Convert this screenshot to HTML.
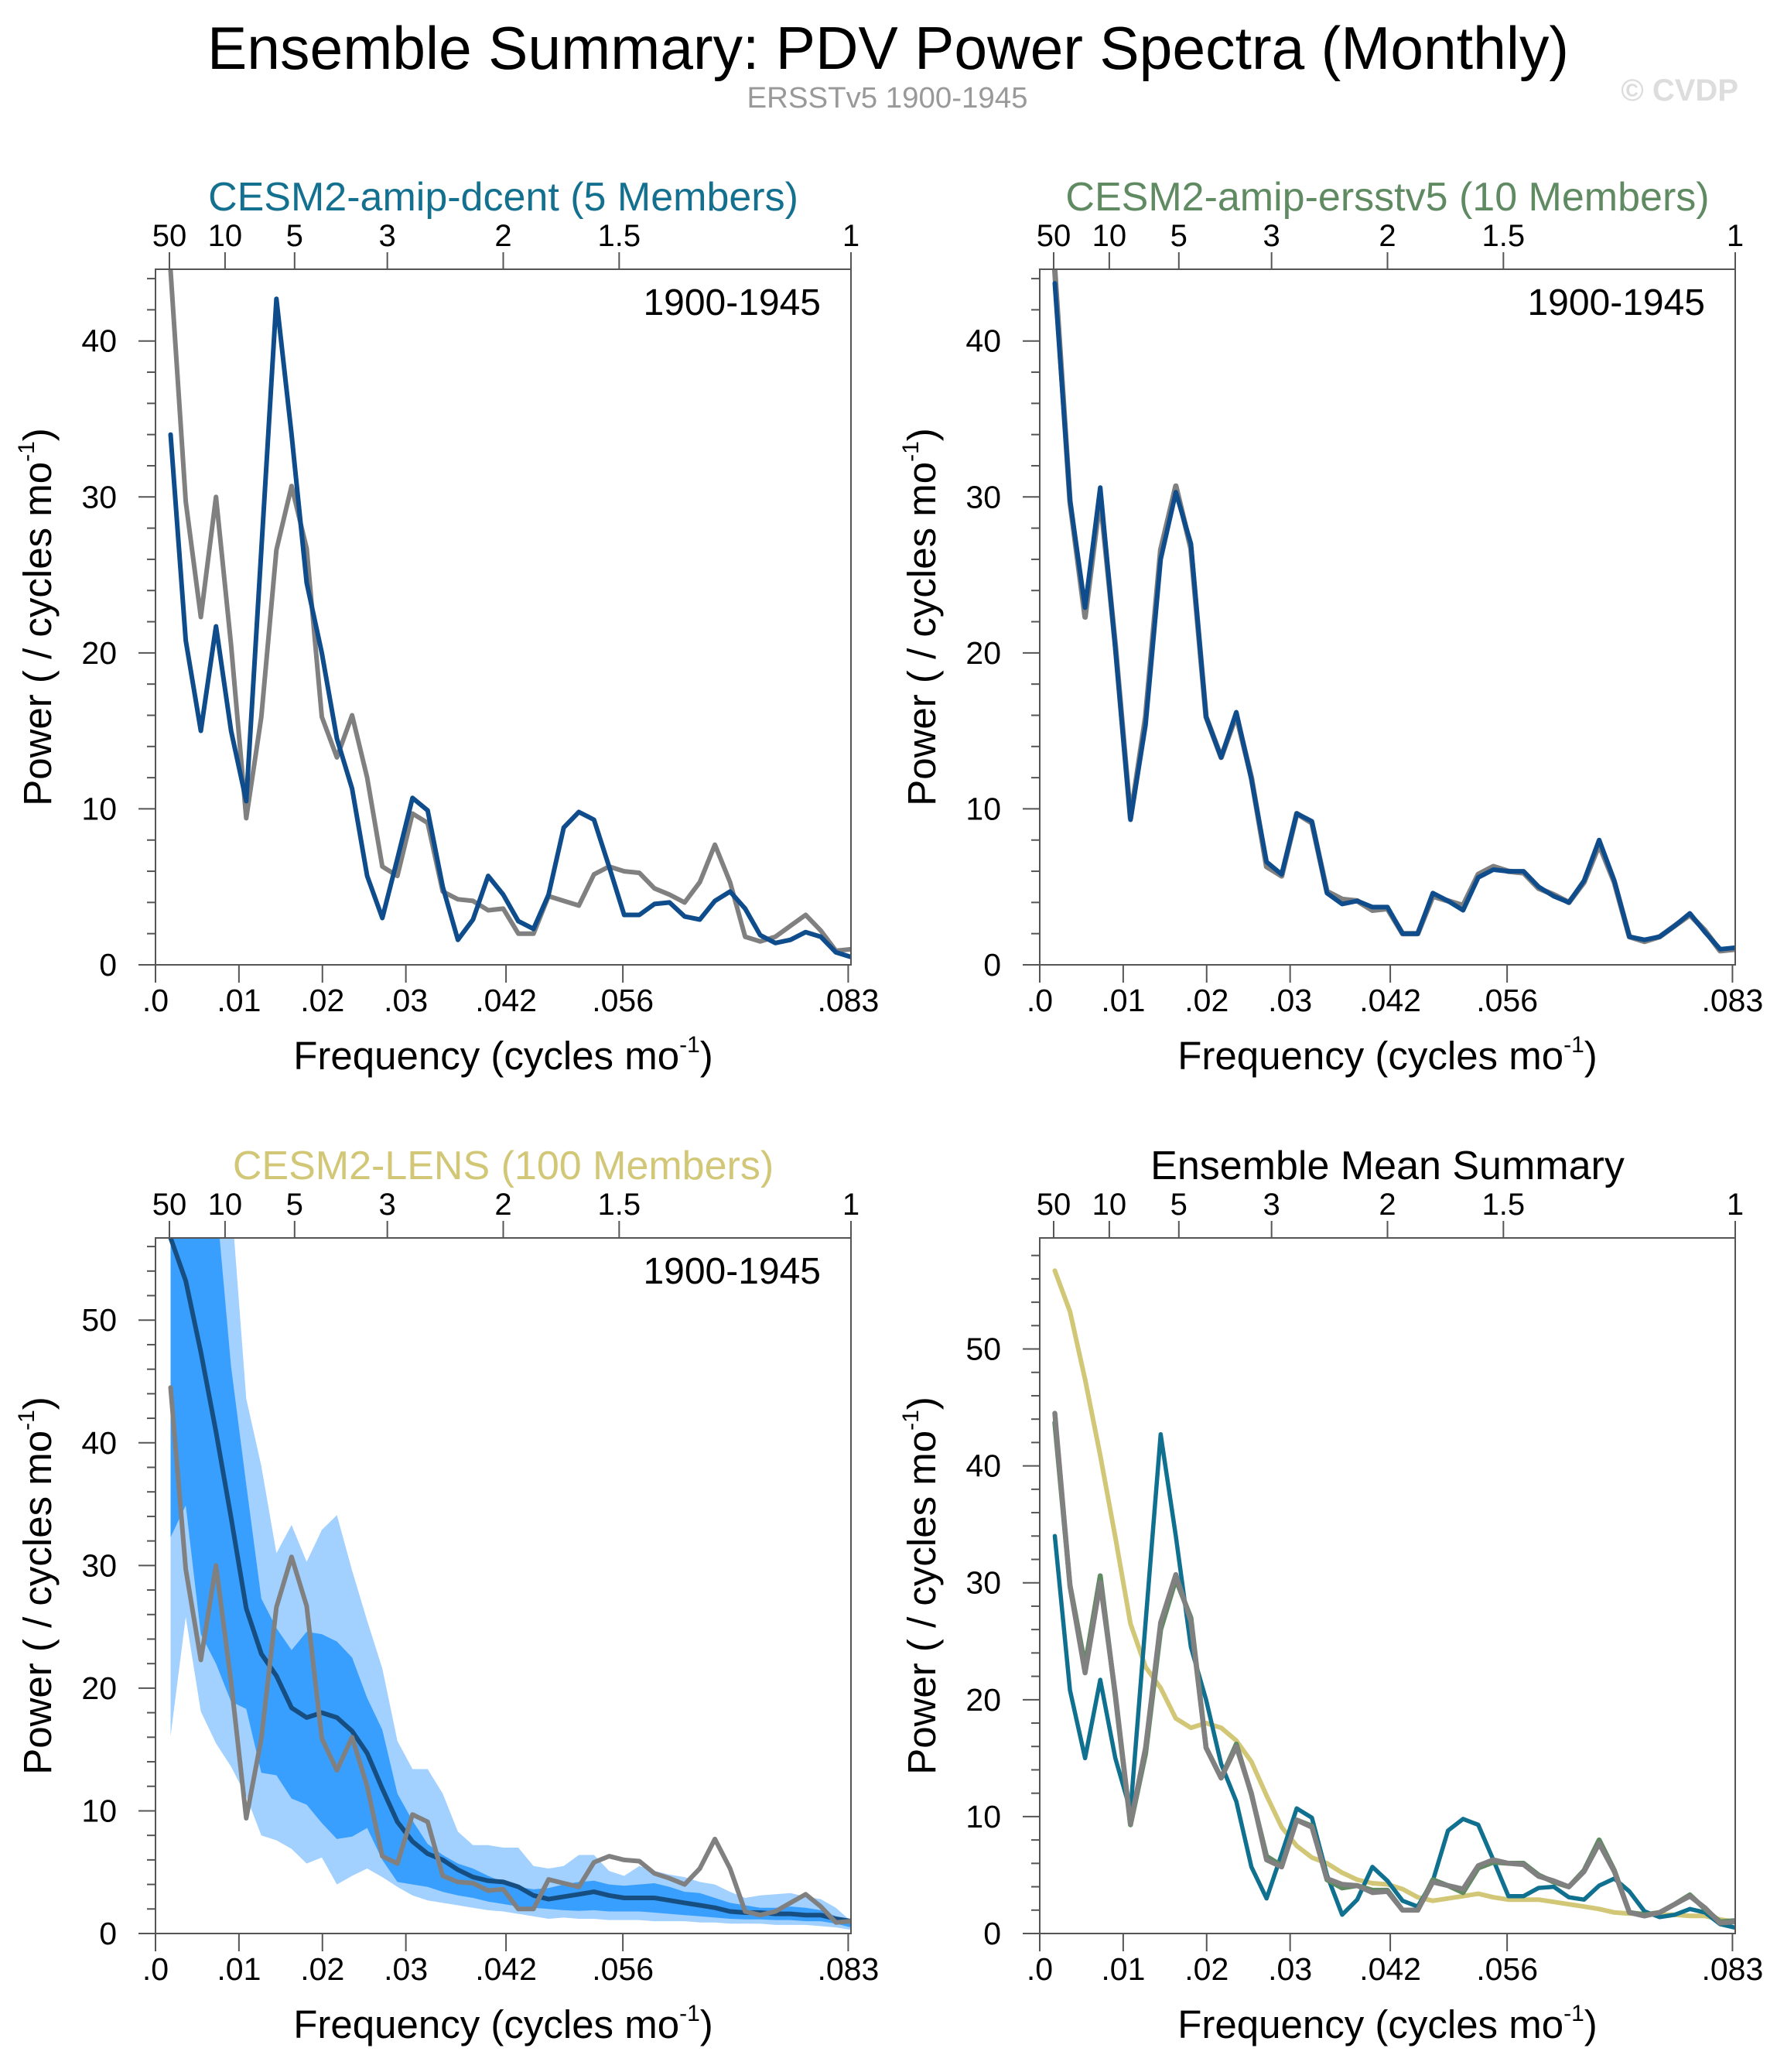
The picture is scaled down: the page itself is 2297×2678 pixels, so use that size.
<!DOCTYPE html>
<html><head><meta charset="utf-8"><style>
html,body{margin:0;padding:0;background:#fff}
svg{display:block;font-family:"Liberation Sans",sans-serif}
</style></head><body>
<svg id="chart" xmlns="http://www.w3.org/2000/svg" width="2297" height="2678" viewBox="0 0 2297 2678">
<rect width="2297" height="2678" fill="#fff"/>
<text x="1148" y="89" font-size="78" text-anchor="middle" textLength="1760" lengthAdjust="spacingAndGlyphs">Ensemble Summary: PDV Power Spectra (Monthly)</text>
<text x="1147" y="139" font-size="38" fill="#999" text-anchor="middle" textLength="363" lengthAdjust="spacingAndGlyphs">ERSSTv5 1900-1945</text>
<text x="2247" y="130" font-size="40" font-weight="bold" fill="#ddd" text-anchor="end">© CVDP</text>
<g id="plots"></g>
</svg>
<script>
// Frequencies k/552, k = 1..46
const obsPower = [44.5,29.7,22.3,30.0,20.5,9.4,15.9,26.6,30.7,26.7,15.9,13.3,16.0,12.0,6.3,5.7,9.7,9.1,4.7,4.2,4.1,3.5,3.6,2.0,2.0,4.4,4.1,3.8,5.8,6.3,6.0,5.9,4.9,4.5,4.0,5.3,7.7,5.3,1.8,1.5,1.8,2.5,3.2,2.2,0.9,1.0];
const dcentPower = [34.0,20.8,15.0,21.7,15.0,10.5,26.6,42.7,34.0,24.5,20.0,14.5,11.3,5.7,3.0,6.8,10.7,9.9,5.0,1.6,2.9,5.7,4.5,2.8,2.3,4.5,8.8,9.8,9.3,6.3,3.2,3.2,3.9,4.0,3.1,2.9,4.1,4.7,3.6,1.9,1.4,1.6,2.1,1.8,0.8,0.5];
const ersstv5Power = [43.7,29.8,22.9,30.6,20.3,9.3,15.4,26.0,30.3,27.0,15.9,13.3,16.2,11.9,6.6,5.8,9.7,9.2,4.6,3.9,4.1,3.7,3.7,2.0,2.0,4.6,4.1,3.5,5.6,6.1,6.0,6.0,5.0,4.4,4.0,5.4,8.0,5.4,1.8,1.6,1.8,2.5,3.3,2.1,1.0,1.1];
const lensMean = [56.7,53.2,47.4,40.9,33.9,26.5,22.8,21.0,18.4,17.6,18.0,17.6,16.5,14.7,11.8,9.1,7.5,6.5,6.0,5.2,4.6,4.3,4.2,3.8,3.1,2.8,3.0,3.2,3.4,3.1,2.9,2.9,2.9,2.7,2.5,2.3,2.1,1.8,1.7,1.7,1.6,1.6,1.5,1.5,1.2,1.0];
const lensDarkUpper = [60,60,60,60,46.2,36.6,27.3,24.9,23.1,24.6,24.4,23.8,22.5,19.2,16.6,11.4,9.2,7.3,6.4,5.7,5.3,4.7,4.2,3.8,3.6,3.7,4.0,4.2,4.3,4.0,3.9,4.0,4.1,3.8,3.4,3.3,2.9,2.5,2.3,2.1,2.1,2.2,2.1,1.9,1.4,0.9];
const lensDarkLower = [32.3,34.9,24.4,22.0,18.9,18.3,13.1,12.9,11.0,10.5,9.0,7.7,7.9,8.6,6.0,4.2,4.0,3.8,3.4,3.1,2.9,2.6,2.4,2.2,2.1,2.0,1.9,1.85,1.9,1.8,1.8,1.8,1.7,1.6,1.5,1.4,1.3,1.2,1.15,1.15,1.1,1.1,1.0,1.0,0.8,0.5];
const lensLightUpper = [60,60,60,60,60,43.6,38.1,31.0,33.3,30.3,32.9,34.1,29.6,25.5,21.6,15.7,13.4,13.4,11.4,8.3,7.2,7.2,7.0,7.0,5.5,5.3,5.5,6.4,6.4,5.1,4.7,5.5,5.1,4.8,4.6,4.2,4.0,3.4,2.9,3.1,3.2,3.3,3.0,2.8,2.1,1.0];
const lensLightLower = [16.1,25.8,18.1,15.5,13.6,11.2,8.0,7.6,6.9,5.7,6.2,4.0,4.7,5.3,4.6,3.8,3.1,2.7,2.5,2.3,2.1,1.9,1.8,1.6,1.4,1.2,1.3,1.2,1.2,1.1,1.1,1.1,1.0,1.0,1.0,0.9,0.9,0.8,0.8,0.8,0.7,0.7,0.7,0.6,0.5,0.3];
const bottomTickValues = [0,0.01,0.02,0.03,0.042,0.056,0.083];
const bottomTickLabels = [".0",".01",".02",".03",".042",".056",".083"];
const topTickPeriods = [50,10,5,3,2,1.5,1];
const nMonths = 552;

const NS = "http://www.w3.org/2000/svg";
const XMAX = 1/12;
const root = document.getElementById("plots");
function mk(tag, attrs, parent){const e=document.createElementNS(NS,tag);for(const k in attrs)e.setAttribute(k,attrs[k]);(parent||root).appendChild(e);return e;}

const panels = [
  {name:"dcent",L:201,T:348,ymax:44.6,title:"CESM2-amip-dcent (5 Members)",tcol:"#14708f",label:true},
  {name:"ersstv5",L:1344,T:348,ymax:44.6,title:"CESM2-amip-ersstv5 (10 Members)",tcol:"#5f8a62",label:true},
  {name:"lens",L:201,T:1600,ymax:56.7,title:"CESM2-LENS (100 Members)",tcol:"#d1c777",label:true},
  {name:"mean-summary",L:1344,T:1600,ymax:59.5,title:"Ensemble Mean Summary",tcol:"#000",label:false}
];
const W=899,H=899;

panels.forEach((p,pi)=>{
  const g = mk("g",{});
  
  
  const xs = f => p.L + f/XMAX*W;
  const ys = v => p.T + H - v/p.ymax*H;
  const B = p.T+H;
  const clip = mk("clipPath",{id:"clip"+pi},g);
  mk("rect",{x:p.L,y:p.T,width:W,height:H},clip);
  const plotG = mk("g",{"clip-path":"url(#clip"+pi+")"},g);
  const freqs = obsPower.map((_,i)=>(i+1)/nMonths);
  function line(vals,color,w,name){
    const d = vals.map((v,i)=>(i?"L":"M")+xs(freqs[i]).toFixed(1)+" "+ys(v).toFixed(1)).join("");
    const e = mk("path",{d:d,fill:"none",stroke:color,"stroke-width":w,"stroke-linejoin":"round","stroke-linecap":"round"},plotG);
    
    
  }
  function band(up,lo,color,name){
    let d = up.map((v,i)=>(i?"L":"M")+xs(freqs[i]).toFixed(1)+" "+ys(v).toFixed(1)).join("");
    for(let i=lo.length-1;i>=0;i--) d += "L"+xs(freqs[i]).toFixed(1)+" "+ys(lo[i]).toFixed(1);
    const e = mk("path",{d:d+"Z",fill:color,stroke:"none"},plotG);
    
    
  }
  if(pi===0){ line(obsPower,"#808080",6,"obs-line"); line(dcentPower,"#0e4c8c",6,"dcent-line"); }
  if(pi===1){ line(obsPower,"#808080",7,"obs-line"); line(ersstv5Power,"#0e4c8c",6,"ersstv5-line"); }
  if(pi===2){
    band(lensLightUpper,lensLightLower,"#a2d0ff","lens-minmax-band");
    band(lensDarkUpper,lensDarkLower,"#389ffe","lens-10-90-band");
    line(lensMean,"#174e82",6,"lens-mean-line");
    line(obsPower,"#808080",6,"obs-line");
  }
  if(pi===3){
    line(lensMean,"#d1c777",6,"lens-mean-line");
    line(dcentPower,"#10708f",5.5,"dcent-line");
    line(ersstv5Power,"#5f8a62",6.5,"ersstv5-line");
    line(obsPower,"#808080",6.5,"obs-line");
  }
  const fr = mk("rect",{x:p.L,y:p.T,width:W,height:H,fill:"none",stroke:"#555","stroke-width":2},g);
  
  
  for(let v=0; v<=p.ymax+1e-6; v+=2){
    const major = (v%10===0);
    mk("line",{x1:p.L-(major?22:11),x2:p.L,y1:ys(v),y2:ys(v),stroke:"#555","stroke-width":2},g);
    if(major){
      const t = mk("text",{x:p.L-50,y:ys(v)+14,"font-size":41,"text-anchor":"end"},g);
      t.textContent = String(v);
      
      
    }
  }
  bottomTickValues.forEach((f,i)=>{
    mk("line",{x1:xs(f),x2:xs(f),y1:B,y2:B+23,stroke:"#555","stroke-width":2},g);
    const t = mk("text",{x:xs(f),y:B+60,"font-size":41,"text-anchor":"middle"},g);
    t.textContent = bottomTickLabels[i];
    
    
  });
  topTickPeriods.forEach(per=>{
    const x = xs(1/(per*12));
    mk("line",{x1:x,x2:x,y1:p.T-22,y2:p.T,stroke:"#555","stroke-width":2},g);
    const t = mk("text",{x:x,y:p.T-30,"font-size":40,"text-anchor":"middle"},g);
    t.textContent = String(per);
    
    
  });
  const tt = mk("text",{x:p.L+W/2,y:p.T-76,"font-size":52,"text-anchor":"middle",fill:p.tcol},g);
  tt.textContent = p.title;
  
  
  if(p.label){
    const lt = mk("text",{x:p.L+W-39,y:p.T+59,"font-size":48,"text-anchor":"end"},g);
    lt.textContent = "1900-1945";
    
    
  }
  const xt = mk("text",{x:p.L+W/2,y:B+135,"font-size":51,"text-anchor":"middle"},g);
  
  
  xt.appendChild(document.createTextNode("Frequency (cycles mo"));
  const s1 = mk("tspan",{"font-size":30,dy:-22},xt); s1.textContent="-1";
  const s2 = mk("tspan",{dy:22},xt); s2.textContent=")";
  const yt = mk("text",{x:0,y:0,"font-size":51,"text-anchor":"middle",transform:"translate("+(p.L-135)+","+(p.T+H/2)+") rotate(-90)"},g);
  
  
  yt.appendChild(document.createTextNode("Power ( / cycles mo"));
  const s3 = mk("tspan",{"font-size":30,dy:-22},yt); s3.textContent="-1";
  const s4 = mk("tspan",{dy:22},yt); s4.textContent=")";
});
</script>
</body></html>
